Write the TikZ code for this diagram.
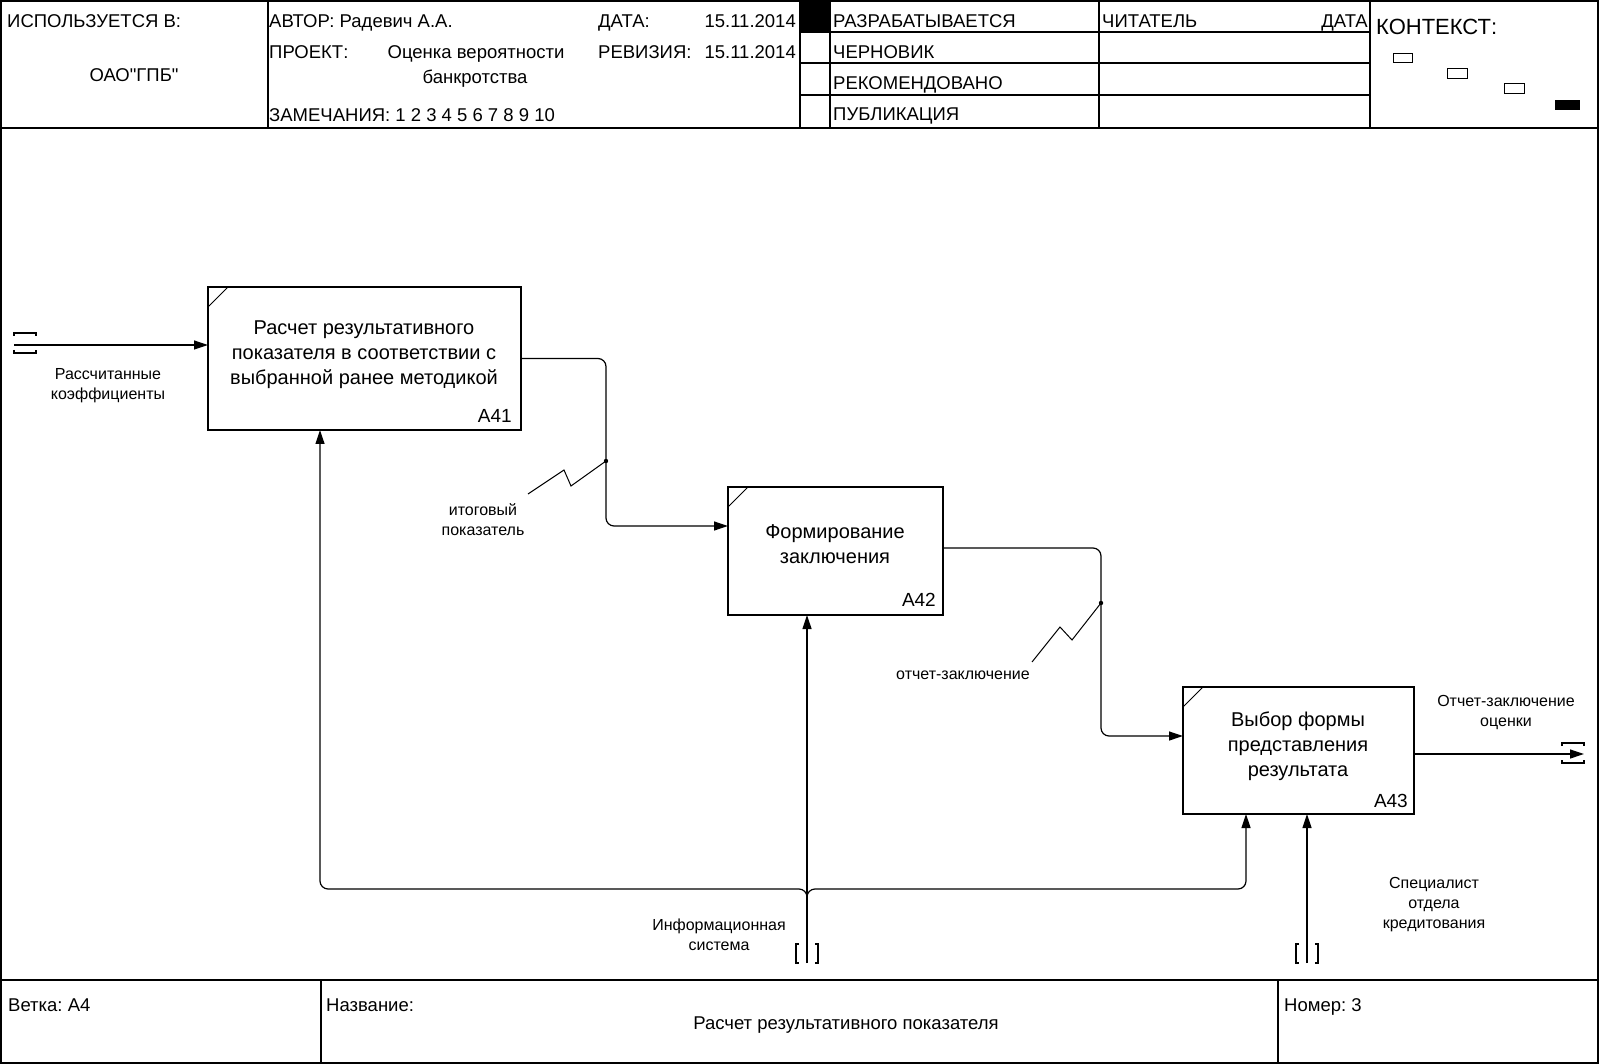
\documentclass[tikz,border=0pt]{standalone}
\usepackage{fontspec}
\setmainfont{Liberation Sans}[Ligatures=TeXOff]
\usetikzlibrary{arrows.meta,calc}
\frenchspacing
\begin{document}
\begin{tikzpicture}[x=1pt,y=-1pt,
  frame/.style={line width=1.6pt},
  gridline/.style={line width=1.2pt},
  fnbox/.style={draw,line width=1.3pt,inner sep=0pt,outer sep=0pt},
  conn/.style={line width=1.2pt,rounded corners=8pt},
  arr/.style={conn,-{Triangle[length=14pt,width=9pt]}},
  tun/.style={line width=1.2pt},
  lbl/.style={font=\fontsize{16}{20}\selectfont,align=center,inner sep=0pt},
  hdr/.style={font=\fontsize{18.5}{22}\selectfont,anchor=base west,inner sep=0pt},
  boxtxt/.style={font=\fontsize{20}{25}\selectfont,align=center,inner sep=0pt},
  boxnum/.style={font=\fontsize{19}{22}\selectfont,anchor=base east,inner sep=0pt},
  ctxbox/.style={draw,line width=1pt}]
\useasboundingbox (0,0) rectangle (1599,1064);
\fill[white] (0,0) rectangle (1599,1064);
% frame and header grid
\draw[frame] (1,1) rectangle (1598,1063);
\draw[gridline] (1,128) -- (1598,128);
\draw[gridline] (1,980) -- (1598,980);
\foreach \xx in {268,800,830,1099,1370} \draw[gridline] (\xx,1) -- (\xx,128);
\foreach \yy in {32,63,95} \draw[gridline] (800,\yy) -- (1370,\yy);
\fill[black] (800,1) rectangle (830,32);
\draw[gridline] (321,980) -- (321,1063);
\draw[gridline] (1278,980) -- (1278,1063);
% context
\draw[ctxbox] (1393,54) rectangle (1412,63);
\draw[ctxbox] (1447,69) rectangle (1467,79);
\draw[ctxbox] (1504,84) rectangle (1524,94);
\fill[black] (1555,100) rectangle (1580,110);
% header texts
\node[hdr] (h1) at (7,28) {ИСПОЛЬЗУЕТСЯ В:};
\node[hdr,anchor=base] (h2) at (134,82) {ОАО"ГПБ"};
\node[hdr] (h3) at (269,28) {АВТОР: Радевич А.А.};
\node[hdr] (h4) at (598,28) {ДАТА:};
\node[hdr,anchor=base east] (h5) at (796,28) {15.11.2014};
\node[hdr] (h6) at (269,58.5) {ПРОЕКТ:};
\node[hdr,anchor=base] (h7) at (476,58.5) {Оценка вероятности};
\node[hdr,anchor=base] (h8) at (475,84) {банкротства};
\node[hdr] (h9) at (598,58.5) {РЕВИЗИЯ:};
\node[hdr,anchor=base east] (h10) at (796,58.5) {15.11.2014};
\node[hdr] (h11) at (269,121.5) {ЗАМЕЧАНИЯ: 1 2 3 4 5 6 7 8 9 10};
\node[hdr] (h12) at (833,28) {РАЗРАБАТЫВАЕТСЯ};
\node[hdr] (h13) at (833,58.5) {ЧЕРНОВИК};
\node[hdr] (h14) at (833,89.5) {РЕКОМЕНДОВАНО};
\node[hdr] (h15) at (833,120.5) {ПУБЛИКАЦИЯ};
\node[hdr] (h16) at (1102,28) {ЧИТАТЕЛЬ};
\node[hdr,anchor=base east] (h17) at (1368,28) {ДАТА};
\node[hdr,font=\fontsize{22}{26}\selectfont] (h18) at (1376,34.5) {КОНТЕКСТ:};
% footer texts
\node[hdr] (f1) at (8,1011) {Ветка: А4};
\node[hdr] (f2) at (326,1011) {Название:};
\node[hdr,anchor=base] (f3) at (846,1029) {Расчет результативного показателя};
\node[hdr] (f4) at (1284,1011) {Номер: 3};
% function boxes
\node[fnbox,minimum width=313pt,minimum height=143pt] (a41) at (364.5,358.5) {};
\node[fnbox,minimum width=215pt,minimum height=128pt] (a42) at (835.5,551) {};
\node[fnbox,minimum width=231pt,minimum height=127pt] (a43) at (1298.5,750.5) {};
\foreach \b in {a41,a42,a43}
  \draw[line width=1pt] ($(\b.north west)+(0,20)$) -- ($(\b.north west)+(20,0)$);
\node[boxtxt] (t41) at (364,355) {Расчет результативного\\показателя в соответствии с\\выбранной ранее методикой};
\node[boxtxt] (t42) at (835,544.5) {Формирование\\заключения};
\node[boxtxt] (t43) at (1298,746) {Выбор формы\\представления\\результата};
\node[boxnum] (n41) at ($(a41.south east)+(-9,-7)$) {A41};
\node[boxnum] (n42) at ($(a42.south east)+(-7,-9)$) {A42};
\node[boxnum] (n43) at ($(a43.south east)+(-6,-7)$) {A43};
% coordinates
\coordinate (inL) at (14,345);
\coordinate (j1) at (606,461);
\coordinate (a42in) at ($(a42.north west)+(0,39)$);
\coordinate (a42out) at ($(a42.north east)+(0,61)$);
\coordinate (j2) at (1101,603);
\coordinate (a43in) at ($(a43.north west)+(0,49)$);
\coordinate (a43out) at ($(a43.north east)+(0,67)$);
\coordinate (outR) at (1584,754);
\coordinate (isrc) at (807,963);
\coordinate (forkb) at (807,897);
\coordinate (fork) at (807,889);
\coordinate (c41) at ($(a41.south west)+(112,0)$);
\coordinate (c43) at ($(a43.south west)+(63,0)$);
\coordinate (msrc) at (1307,963);
% connectors
\draw[arr] (inL) -- (inL -| a41.west);
\draw[arr] (a41.east) -| (j1) |- (a42in);
\draw[arr] (a42out) -| (j2) |- (a43in);
\draw[arr] (a43out) -- (outR);
\draw[arr] (isrc) -- (isrc |- a42.south);
\draw[arr] (forkb) -- (fork) -| (c41);
\draw[arr] (forkb) -- (fork) -| (c43);
\draw[arr] (msrc) -- (msrc |- a43.south);
% squiggles
\draw[line width=1pt] (528,494) -- (564,470) -- (571,486) -- (j1);
\fill (j1) circle (2.2);
\draw[line width=1pt] (1032,662) -- (1060,627) -- (1072,640) -- (j2);
\fill (j2) circle (2.2);
% tunnels
\draw[tun] (14,336) -- (14,333) -- (36,333) -- (36,336);
\draw[tun] (14,350) -- (14,353) -- (36,353) -- (36,350);
\draw[tun] (1562,746) -- (1562,743) -- (1584,743) -- (1584,746);
\draw[tun] (1562,760) -- (1562,763) -- (1584,763) -- (1584,760);
\draw[tun] (799,944) -- (796,944) -- (796,963) -- (799,963);
\draw[tun] (815,944) -- (818,944) -- (818,963) -- (815,963);
\draw[tun] (1299,944) -- (1296,944) -- (1296,963) -- (1299,963);
\draw[tun] (1315,944) -- (1318,944) -- (1318,963) -- (1315,963);
% labels
\node[lbl] (l1) at (108,386) {Рассчитанные\\коэффициенты};
\node[lbl] (l2) at (483,520) {итоговый\\показатель};
\node[lbl] (l3) at (963,675) {отчет-заключение};
\node[lbl] (l4) at (1506,712.5) {Отчет-заключение\\оценки};
\node[lbl] (l5) at (719,935) {Информационная\\система};
\node[lbl] (l6) at (1434,905) {Специалист\\отдела\\кредитования};
\end{tikzpicture}
\end{document}
